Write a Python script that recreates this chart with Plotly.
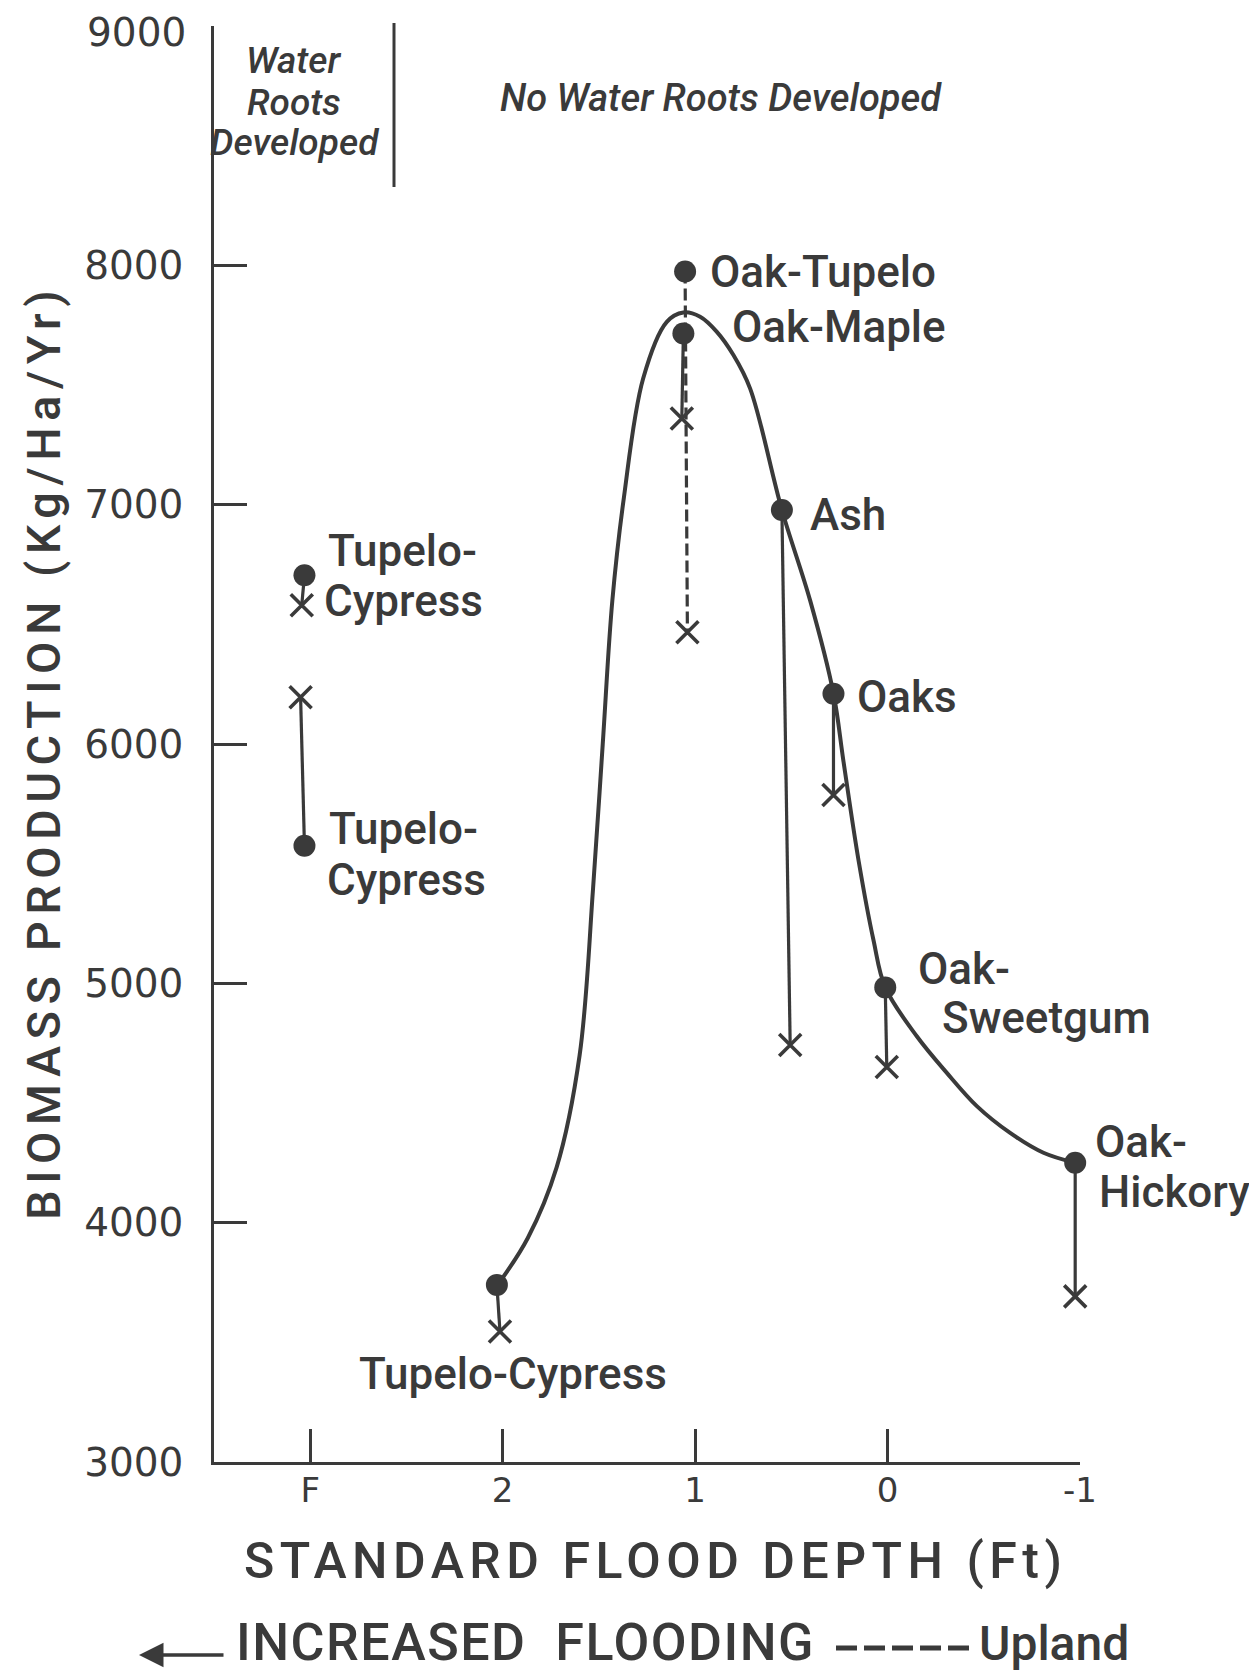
import plotly.graph_objects as go

# ---------------- data ----------------
# x positions: F (flooded) is plotted at 3, then flood depths 2, 1, 0, -1 (axis reversed)
tick_vals = [3, 2, 1, 0, -1]
tick_text = ["F", "2", "1", "0", "-1"]
y_ticks = [3000, 4000, 5000, 6000, 7000, 8000, 9000]
y_tick_labels = ["3000", "4000", "5000", "6000", "7000", "8000", "9000"]

# stand names (one per measured site)
stands = ["Tupelo-Cypress (F upper)", "Tupelo-Cypress (F lower)", "Tupelo-Cypress (2)",
          "Oak-Tupelo", "Oak-Maple", "Ash", "Oaks", "Oak-Sweetgum", "Oak-Hickory"]
# filled dots
dot_x = [3.03, 3.03, 2.03, 1.052, 1.061, 0.549, 0.281, 0.012, -0.975]
dot_y = [6705, 5575, 3740, 7974, 7715, 6978, 6210, 4983, 4250]
# "x" marks
xm_x = [3.044, 3.05, 2.014, 1.040, 1.069, 0.506, 0.281, 0.004, -0.975]
xm_y = [6580, 6195, 3545, 6467, 7360, 4742, 5787, 4650, 3692]
# connector style per stand: solid or dashed (upland)
conn_dash = [False, False, False, True, False, False, False, False, False]

# smooth curve through the stands
curve_x = [2.029, 1.87, 1.72, 1.60, 1.53, 1.48, 1.43, 1.37, 1.27, 1.147, 1.061,
           0.974, 0.887, 0.801, 0.714, 0.549, 0.402, 0.281, 0.229, 0.150, 0.073,
           0.012, -0.152, -0.308, -0.464, -0.637, -0.810, -0.975]
curve_y = [3737, 3935, 4230, 4700, 5400, 6000, 6600, 7030, 7527, 7764, 7803,
           7785, 7722, 7625, 7485, 6978, 6599, 6211, 5927, 5510, 5180,
           4983, 4779, 4626, 4487, 4375, 4292, 4250]

# ---------------- styling ----------------
INK = "#3a3a3a"
FAM = "Roboto, Liberation Sans, Arial, sans-serif"
LABEL_FONT = dict(family=FAM, size=44, color=INK, weight=500)
TICK_FONT_Y = dict(family="DejaVu Sans", size=39, color=INK)
OFF = 8                      # page body margin
PAGE_W, PAGE_H = 1257, 1680
W, H = PAGE_W - OFF, PAGE_H - 2 * OFF
# plot area in page pixels: x 214..1080, y 26..1462
L, T = 214 - OFF, 26 - OFF
R, B = W - (1080 - OFF), H - (1462 - OFF)
PW, PH = W - L - R, H - T - B


def px(xp):
    return (xp - OFF - L) / PW


def py(yp):
    return (H - B - (yp - OFF)) / PH


fig = go.Figure()

# curve
fig.add_trace(go.Scatter(x=curve_x, y=curve_y, mode="lines",
                         line=dict(color=INK, width=4, shape="spline", smoothing=1.0),
                         hoverinfo="skip", showlegend=False))

# connectors
for dashed in (True, False):
    cx, cy = [], []
    for i in range(len(stands)):
        if conn_dash[i] == dashed:
            cx += [dot_x[i], xm_x[i], None]
            cy += [dot_y[i], xm_y[i], None]
    fig.add_trace(go.Scatter(x=cx, y=cy, mode="lines",
                             line=dict(color=INK, width=3.2, dash="12px,5px" if dashed else "solid"),
                             hoverinfo="skip", showlegend=False, cliponaxis=False))

# x marks
fig.add_trace(go.Scatter(x=xm_x, y=xm_y, mode="markers", cliponaxis=False,
                         marker=dict(symbol="x-thin", size=22, line=dict(color=INK, width=3.6)),
                         showlegend=False, text=stands))
# dots
fig.add_trace(go.Scatter(x=dot_x, y=dot_y, mode="markers", cliponaxis=False,
                         marker=dict(symbol="circle", size=22, color=INK),
                         showlegend=False, text=stands))

# ---------------- stand labels (anchored at dots, pixel offsets) ----------------
labels = [
    (3, "Oak-Tupelo", 23, 0),
    (4, "Oak-Maple", 47, 7),
    (5, "Ash", 26, -5),
    (6, "Oaks", 22, -3),
    (7, "Oak-", 31, 18),
    (7, "Sweetgum", 55, -31),
    (8, "Oak-", 18, 21),
    (8, "Hickory", 22, -29),
    (0, "Tupelo-", 22, 24),
    (0, "Cypress", 18, -26),
    (1, "Tupelo-", 23, 17),
    (1, "Cypress", 21, -34),
]
for idx, txt, dx, dy in labels:
    fig.add_annotation(x=dot_x[idx], y=dot_y[idx], xref="x", yref="y", text=txt,
                       showarrow=False, xanchor="left", yanchor="middle",
                       xshift=dx, yshift=dy, font=LABEL_FONT)
fig.add_annotation(x=dot_x[2], y=dot_y[2], xref="x", yref="y", text="Tupelo-Cypress",
                   showarrow=False, xanchor="center", yanchor="middle",
                   xshift=16, yshift=-89, font=LABEL_FONT)

# top tick label (kept inside the page)
fig.add_annotation(x=0, y=py(OFF), xref="paper", yref="paper", text=y_tick_labels[-1],
                   showarrow=False, xanchor="right", yanchor="top", xshift=-26,
                   font=TICK_FONT_Y)

# ---------------- top region texts ----------------
ITAL = dict(family=FAM, size=37, color=INK, weight=500)
for txt, yy in (("Water", 61), ("Roots", 103), ("Developed", 142)):
    fig.add_annotation(x=px(294), y=py(yy), xref="paper", yref="paper", text=f"<i>{txt}</i>",
                       showarrow=False, xanchor="center", yanchor="middle", font=ITAL)
fig.add_annotation(x=px(721), y=py(98), xref="paper", yref="paper",
                   text="<i>No Water Roots Developed</i>", showarrow=False,
                   xanchor="center", yanchor="middle",
                   font=dict(family=FAM, size=38, color=INK, weight=500))
fig.add_shape(type="line", xref="paper", yref="paper", x0=px(394), x1=px(394),
              y0=py(23), y1=py(187), line=dict(color=INK, width=3))

# ---------------- axis titles ----------------
fig.add_annotation(x=px(43), y=py(752), xref="paper", yref="paper", textangle=-90,
                   text='<span style="letter-spacing:6.5px">BIOMASS PRODUCTION (Kg/Ha/Yr)</span>',
                   showarrow=False, xanchor="center", yanchor="middle",
                   font=dict(family=FAM, size=47, color=INK, weight=500))
fig.add_annotation(x=px(655), y=py(1561), xref="paper", yref="paper",
                   text='<span style="letter-spacing:5.5px">STANDARD FLOOD DEPTH (Ft)</span>',
                   showarrow=False, xanchor="center", yanchor="middle",
                   font=dict(family=FAM, size=50, color=INK, weight=500))
fig.add_annotation(x=px(234), y=py(1675), xref="paper", yref="paper",
                   text='<span style="letter-spacing:1.5px">INCREASED\u00a0\u00a0FLOODING</span>',
                   showarrow=False, xanchor="left", yanchor="bottom",
                   font=dict(family=FAM, size=52, color=INK, weight=500))
fig.add_annotation(x=px(977), y=py(1674), xref="paper", yref="paper",
                   text="Upland", showarrow=False, xanchor="left", yanchor="bottom",
                   font=dict(family=FAM, size=48, color=INK, weight=500))
fig.add_shape(type="line", xref="paper", yref="paper", x0=px(836), x1=px(972),
              y0=py(1648), y1=py(1648), line=dict(color=INK, width=5, dash="21px,7px"))
fig.add_annotation(x=px(139), y=py(1655), xref="paper", yref="paper", text="",
                   showarrow=True, ax=86, ay=0, arrowhead=2, arrowsize=1.4,
                   arrowwidth=3.5, arrowcolor=INK)

# ---------------- axes & layout ----------------
fig.update_xaxes(range=[3.5, -1], tickvals=tick_vals, ticktext=tick_text,
                 showline=True, linecolor=INK, linewidth=2.5, mirror=False,
                 ticks="inside", ticklen=33, tickwidth=2.5, tickcolor=INK,
                 showgrid=False, zeroline=False, ticklabelstandoff=-4, automargin=False,
                 ticklabeloverflow="allow",
                 tickfont=dict(family="DejaVu Sans", size=34, color=INK))
fig.update_yaxes(range=[3000, 9000], tickvals=y_ticks,
                 ticktext=y_tick_labels[:-1] + [""],
                 showline=True, linecolor=INK, linewidth=2.5, automargin=False,
                 ticks="inside", ticklen=33, tickwidth=2.5, tickcolor=INK,
                 showgrid=False, zeroline=False, ticklabelstandoff=20,
                 ticklabeloverflow="allow", tickfont=TICK_FONT_Y)
fig.update_layout(width=W, height=H, margin=dict(l=L, r=R, t=T, b=B, autoexpand=False),
                  plot_bgcolor="white", paper_bgcolor="white", showlegend=False)

fig.write_html("out.html")
